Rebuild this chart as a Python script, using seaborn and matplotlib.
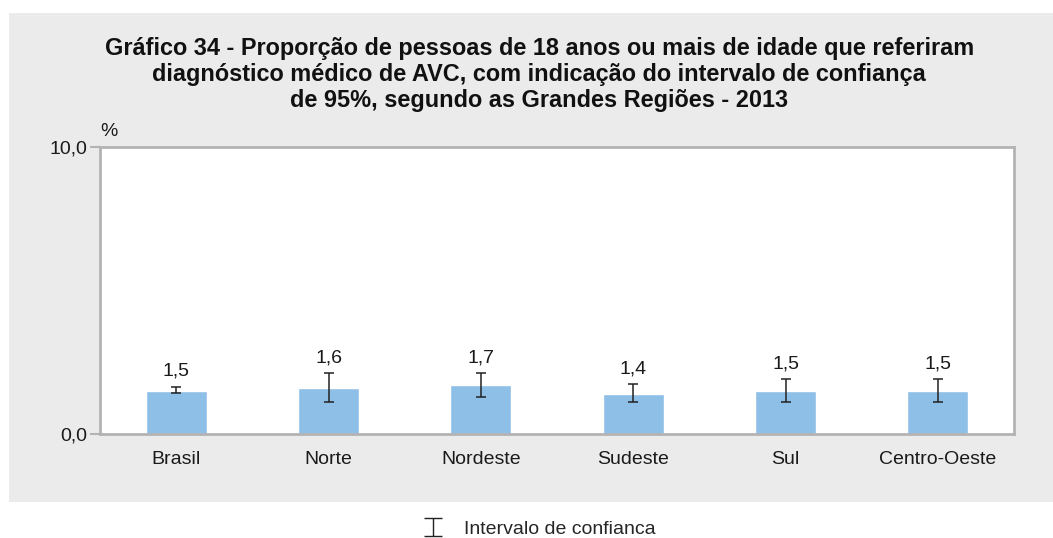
import matplotlib
matplotlib.use("Agg")
import matplotlib.pyplot as plt
from matplotlib.patches import Rectangle
from matplotlib.lines import Line2D
from matplotlib.path import Path
import seaborn as sns
import pandas as pd

# Data: proportion (%) of adults reporting a stroke diagnosis, with 95% CI
regioes = ["Brasil", "Norte", "Nordeste", "Sudeste", "Sul", "Centro-Oeste"]
proporcao = [1.5, 1.6, 1.7, 1.4, 1.5, 1.5]
ic_inferior = [1.43, 1.11, 1.30, 1.11, 1.11, 1.11]
ic_superior = [1.64, 2.11, 2.11, 1.73, 1.91, 1.91]
rotulos = ["1,5", "1,6", "1,7", "1,4", "1,5", "1,5"]

titulo = ("Gráfico 34 - Proporção de pessoas de 18 anos ou mais de idade que referiram\n"
          "diagnóstico médico de AVC, com indicação do intervalo de confiança\n"
          "de 95%, segundo as Grandes Regiões - 2013")

sns.set_style("white")
plt.rcParams["font.family"] = ["Liberation Sans", "DejaVu Sans"]

df = pd.DataFrame({"regiao": regioes, "valor": proporcao})

fig = plt.figure(figsize=(10.53, 5.38), dpi=100)

# grey panel behind the chart
fig.patches.append(Rectangle((0.0085, 0.067), 0.9915, 0.909, transform=fig.transFigure,
                             facecolor="#ebebeb", edgecolor="none", zorder=-10))

ax = fig.add_axes([0.095, 0.1933, 0.868, 0.5335])
ax.set_facecolor("white")

sns.barplot(data=df, x="regiao", y="valor", color="#8ebfe7", saturation=1,
            width=0.4, ax=ax, errorbar=None)

xs = range(len(regioes))
yerr = [[v - lo for v, lo in zip(proporcao, ic_inferior)],
        [hi - v for v, hi in zip(proporcao, ic_superior)]]
ax.errorbar(xs, proporcao, yerr=yerr, fmt="none", ecolor="#222222",
            elinewidth=1.1, capsize=3.3, capthick=1.1, zorder=5)

for x, hi, txt in zip(xs, ic_superior, rotulos):
    ax.annotate(txt, (x, hi), xytext=(0, 5), textcoords="offset points",
                ha="center", va="bottom", fontsize=14, color="#1a1a1a")

ax.set_ylim(0, 10)
ax.set_xlim(-0.5, len(regioes) - 0.5)
ax.set_yticks([0, 10])
ax.set_yticklabels(["0,0", "10,0"], fontsize=14, color="#1a1a1a")
ax.tick_params(axis="y", which="both", left=True, length=7, width=1.5,
               color="#b3b3b3", pad=2)
ax.tick_params(axis="x", bottom=False, labelsize=14, labelcolor="#1a1a1a", pad=9)
ax.set_xlabel("")
ax.set_ylabel("")

for s in ax.spines.values():
    s.set_visible(True)
    s.set_color("#b3b3b3")
    s.set_linewidth(2)

ax.text(0.0, 1.025, "%", transform=ax.transAxes, fontsize=14, ha="left",
        va="bottom", color="#1a1a1a")

fig.text(0.512, 0.862, titulo, ha="center", va="center", fontsize=16.9,
         fontweight="bold", linespacing=1.16, color="#111111")

# legend with an error-bar glyph
glifo = Path([(-1, -1), (1, -1), (0, -1), (0, 1), (-1, 1), (1, 1)],
             [Path.MOVETO, Path.LINETO, Path.MOVETO, Path.LINETO, Path.MOVETO, Path.LINETO])
h = Line2D([], [], linestyle="none", marker=glifo, markersize=13,
           markeredgecolor="#222222", markerfacecolor="none", markeredgewidth=1.0)
fig.legend([h], ["Intervalo de confianca"], loc="center", bbox_to_anchor=(0.508, 0.016),
           frameon=False, fontsize=14, handletextpad=0.6)

fig.savefig("out.png", dpi=100)
